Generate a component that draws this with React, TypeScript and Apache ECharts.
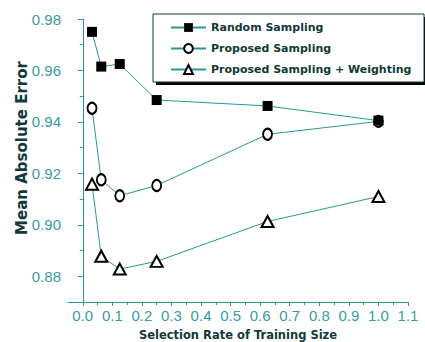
import React, { useEffect, useRef } from "react";
import * as echarts from "echarts";

const rates = [0.03125, 0.0625, 0.125, 0.25, 0.625, 1.0];
const randomSampling = [0.975, 0.9615, 0.9625, 0.9485, 0.9462, 0.9405];
const proposedSampling = [0.9453, 0.9175, 0.9113, 0.9153, 0.9352, 0.9402];
const proposedWeighting = [0.9158, 0.8878, 0.8828, 0.8858, 0.9013, 0.911];

const seriesNames = ["Random Sampling", "Proposed Sampling", "Proposed Sampling + Weighting"];

const xMajorTicks = [0.0, 0.1, 0.2, 0.3, 0.4, 0.5, 0.6, 0.7, 0.8, 0.9, 1.0, 1.1];
const xMinorTicks = [0.05, 0.15, 0.25, 0.35, 0.45, 0.55, 0.65, 0.75, 0.85, 0.95, 1.05];
const yMajorTicks = [0.88, 0.9, 0.92, 0.94, 0.96, 0.98];
const yMinorTicks = [0.87, 0.89, 0.91, 0.93, 0.95, 0.97];

const xTitle = "Selection Rate of Training Size";
const yTitle = "Mean Absolute Error";

const AXIS = "#2a9696";
const LABEL = "#3a9c9c";
const DARK = "#123838";
const TICK_FONT = "'Liberation Sans Narrow', 'Liberation Sans', Arial, sans-serif";
const BOLD_FONT = "'DejaVu Sans', Verdana, sans-serif";

const pairs = (ys: number[]) => rates.map((x, i) => [x, ys[i]]);

export default function App() {
  const ref = useRef<HTMLDivElement>(null);
  useEffect(() => {
    if (!ref.current) return;
    const chart = echarts.init(ref.current, null, { renderer: "svg" });
    const baseAxis = {
      type: "value" as const,
      splitLine: { show: false },
    };
    chart.setOption({
      animation: false,
      backgroundColor: "#ffffff",
      grid: { left: 68, top: 19, right: 17, bottom: 40, containLabel: false },
      xAxis: [
        {
          ...baseAxis,
          min: -0.05,
          max: 1.1,
          axisLine: { show: true, lineStyle: { color: AXIS, width: 1 } },
          axisTick: { show: true, customValues: xMajorTicks, length: 4, lineStyle: { color: AXIS } },
          axisLabel: {
            customValues: xMajorTicks,
            formatter: (v: number) => v.toFixed(1),
            color: LABEL,
            fontFamily: TICK_FONT,
            fontSize: 15,
            margin: 6,
          },
        },
        {
          ...baseAxis,
          min: -0.05,
          max: 1.1,
          position: "bottom",
          axisLine: { show: false },
          axisTick: { show: true, customValues: xMinorTicks, length: 3, lineStyle: { color: AXIS } },
          axisLabel: { show: false },
        },
      ],
      yAxis: [
        {
          ...baseAxis,
          min: 0.87,
          max: 0.98,
          axisLine: { show: true, lineStyle: { color: AXIS, width: 1 } },
          axisTick: { show: true, customValues: yMajorTicks, length: 5, lineStyle: { color: AXIS } },
          axisLabel: {
            customValues: yMajorTicks,
            formatter: (v: number) => v.toFixed(2),
            color: LABEL,
            fontFamily: TICK_FONT,
            fontSize: 15,
            margin: 7,
          },
        },
        {
          ...baseAxis,
          min: 0.87,
          max: 0.98,
          position: "left",
          axisLine: { show: false },
          axisTick: { show: true, customValues: yMinorTicks, length: 3, lineStyle: { color: AXIS } },
          axisLabel: { show: false },
        },
      ],
      legend: {
        orient: "vertical",
        left: 170,
        top: 22,
        itemWidth: 35,
        itemHeight: 11,
        itemGap: 10,
        padding: 0,
        textStyle: { fontFamily: BOLD_FONT, fontWeight: "bold", fontSize: 11, color: DARK },
        data: seriesNames,
      },
      graphic: [
        {
          type: "rect",
          shape: { x: 156, y: 17, width: 271, height: 68 },
          style: { fill: "#000000" },
          z: 1,
        },
        {
          type: "rect",
          shape: { x: 153, y: 14, width: 271, height: 68 },
          style: { fill: "#ffffff", stroke: DARK, lineWidth: 1 },
          z: 2,
        },
        {
          type: "text",
          x: 238,
          y: 335,
          style: {
            text: xTitle,
            fontFamily: BOLD_FONT,
            fontWeight: "bold",
            fontSize: 11.5,
            fill: DARK,
            align: "center",
            verticalAlign: "middle",
          },
        },
        {
          type: "text",
          x: 22,
          y: 148,
          rotation: Math.PI / 2,
          style: {
            text: yTitle,
            fontFamily: BOLD_FONT,
            fontWeight: "bold",
            fontSize: 15,
            fill: DARK,
            align: "center",
            verticalAlign: "middle",
          },
        },
      ],
      series: [
        {
          name: seriesNames[0],
          type: "line",
          data: pairs(randomSampling),
          symbol: "rect",
          symbolSize: 10,
          lineStyle: { color: AXIS, width: 1 },
          itemStyle: { color: "#000000" },
          z: 3,
        },
        {
          name: seriesNames[1],
          type: "line",
          data: pairs(proposedSampling),
          symbol: "emptyCircle",
          symbolSize: [9, 11],
          lineStyle: { color: AXIS, width: 1 },
          itemStyle: { color: "#000000", borderWidth: 2 },
          z: 2,
        },
        {
          name: seriesNames[2],
          type: "line",
          data: pairs(proposedWeighting),
          symbol: "emptyTriangle",
          symbolSize: [12, 11],
          lineStyle: { color: AXIS, width: 1 },
          itemStyle: { color: "#000000", borderWidth: 2 },
          z: 2,
        },
      ],
    });
    return () => chart.dispose();
  }, []);
  return (
    <div
      ref={ref}
      style={{ position: "fixed", left: 0, top: 0, width: 425, height: 342 }}
    />
  );
}
